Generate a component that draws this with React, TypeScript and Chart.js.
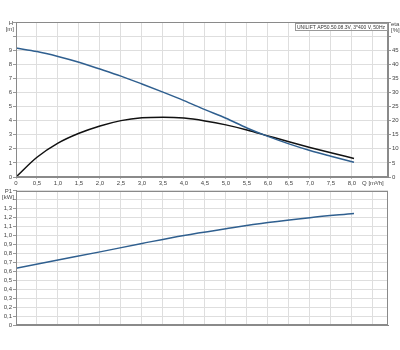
import React, { useEffect, useRef } from "react";
import { Chart, registerables } from "chart.js";

Chart.register(...registerables);

// ---- data ----
const flowQ = [0, 0.5, 1.0, 1.5, 2.0, 2.5, 3.0, 3.5, 4.0, 4.5, 5.0, 5.5, 6.0, 6.5, 7.0, 7.5, 8.05];
const headH = [9.15, 8.9, 8.55, 8.14, 7.66, 7.16, 6.6, 6.02, 5.42, 4.78, 4.17, 3.48, 2.88, 2.35, 1.88, 1.47, 1.04];
const etaPct = [0, 7.0, 12.0, 15.5, 18.1, 20.0, 21.0, 21.2, 20.9, 19.9, 18.5, 16.7, 14.6, 12.5, 10.5, 8.6, 6.6];
const powerQ = [0, 1.0, 2.0, 3.0, 4.0, 5.0, 6.0, 7.0, 8.05];
const powerP1 = [0.634, 0.725, 0.816, 0.91, 1.0, 1.074, 1.143, 1.198, 1.245];

const xTickValues = [0, 0.5, 1, 1.5, 2, 2.5, 3, 3.5, 4, 4.5, 5, 5.5, 6, 6.5, 7, 7.5, 8, 8.5];
const xTickLabels = ["0", "0,5", "1,0", "1,5", "2,0", "2,5", "3,0", "3,5", "4,0", "4,5", "5,0", "5,5", "6,0", "6,5", "7,0", "7,5", "8,0", "Q [m³/h]"];
const hTickValues = [0, 1, 2, 3, 4, 5, 6, 7, 8, 9, 10, 11];
const hTickLabels = ["0", "1", "2", "3", "4", "5", "6", "7", "8", "9", "", ""];
const etaTickValues = [0, 5, 10, 15, 20, 25, 30, 35, 40, 45, 50, 55];
const etaTickLabels = ["0", "5", "10", "15", "20", "25", "30", "35", "40", "45", "", ""];
const pTickValues = [0, 0.1, 0.2, 0.3, 0.4, 0.5, 0.6, 0.7, 0.8, 0.9, 1.0, 1.1, 1.2, 1.3, 1.4, 1.5];
const pTickLabels = ["0", "0,1", "0,2", "0,3", "0,4", "0,5", "0,6", "0,7", "0,8", "0,9", "1,0", "1,1", "1,2", "1,3", "", ""];

const titleText = "UNILIFT AP50.50.08.3V, 3*400 V, 50Hz";

const X_MAX = 8.86;
const FONT = "'Liberation Sans', Arial, sans-serif";
const tickFont = { family: FONT, size: 6 };
const TICK_COLOR = "#444";
const GRID = "#dedede";
const BORDER = "#8a8a8a";
const BLUE = "#2f5f8f";

const setTicks = (values: number[]) => (scale: any) => {
  scale.ticks = values.map((v) => ({ value: v }));
};

const framePlugin = {
  id: "frame",
  afterDatasetsDraw(chart: any, _a: any, opts: any) {
    const { ctx, chartArea: a } = chart;
    ctx.save();
    ctx.strokeStyle = BORDER;
    ctx.lineWidth = 1;
    ctx.strokeRect(Math.round(a.left) + 0.5, Math.round(a.top) + 0.5, Math.round(a.right - a.left) - 1, Math.round(a.bottom - a.top) - 1);
    ctx.fillStyle = TICK_COLOR;
    ctx.font = `6px ${FONT}`;
    (opts.labels || []).forEach((l: any) => {
      ctx.textAlign = l.align;
      ctx.textBaseline = "middle";
      ctx.fillText(l.text, l.x, l.y);
    });
    if (opts.title) {
      ctx.font = `5px ${FONT}`;
      const w = ctx.measureText(opts.title).width;
      const right = Math.round(a.right) - 1;
      const x0 = right - w - 4;
      ctx.fillStyle = "#fff";
      ctx.fillRect(x0, a.top + 1, w + 4, 8);
      ctx.strokeStyle = "#999";
      ctx.strokeRect(Math.round(x0) + 0.5, Math.round(a.top) + 1.5, Math.round(w + 4), 7);
      ctx.fillStyle = "#333";
      ctx.textAlign = "right";
      ctx.textBaseline = "middle";
      ctx.fillText(opts.title, right - 2, a.top + 5.5);
    }
    ctx.restore();
  },
};

export default function App() {
  const topRef = useRef<HTMLCanvasElement>(null);
  const botRef = useRef<HTMLCanvasElement>(null);

  useEffect(() => {
    const top = new Chart(topRef.current!, {
      type: "line",
      data: {
        datasets: [
          {
            label: "H",
            data: flowQ.map((q, i) => ({ x: q, y: headH[i] })),
            borderColor: BLUE,
            borderWidth: 1.5,
            pointRadius: 0,
            cubicInterpolationMode: "monotone",
            yAxisID: "y",
          },
          {
            label: "eta",
            data: flowQ.map((q, i) => ({ x: q, y: etaPct[i] })),
            borderColor: "#111",
            borderWidth: 1.5,
            pointRadius: 0,
            cubicInterpolationMode: "monotone",
            yAxisID: "y2",
          },
        ],
      },
      options: {
        animation: false,
        responsive: false,
        events: [],
        layout: { padding: { top: 22, left: 0, right: 0, bottom: 0 } },
        plugins: {
          legend: { display: false },
          tooltip: { enabled: false },
          frame: {
            title: titleText,
            labels: [
              { text: "H", x: 13, y: 23, align: "right" },
              { text: "[m]", x: 14, y: 29.5, align: "right" },
              { text: "eta", x: 391, y: 24, align: "left" },
              { text: "[%]", x: 391, y: 30.5, align: "left" },
            ],
          },
        } as any,
        scales: {
          x: {
            type: "linear",
            min: 0,
            max: X_MAX,
            afterBuildTicks: setTicks(xTickValues),
            afterFit: (s: any) => { s.height = 13; },
            ticks: { font: tickFont, color: TICK_COLOR, padding: 1, maxRotation: 0, autoSkip: false, callback: (_v: any, i: number) => xTickLabels[i] },
            grid: { color: GRID, tickLength: 2, tickColor: "#bbb" },
            border: { color: BORDER },
          },
          y: {
            type: "linear",
            position: "left",
            min: 0,
            max: 11,
            afterBuildTicks: setTicks(hTickValues),
            afterFit: (s: any) => { s.width = 16; },
            ticks: { font: tickFont, color: TICK_COLOR, padding: 1, autoSkip: false, callback: (_v: any, i: number) => hTickLabels[i] },
            grid: { color: GRID, tickLength: 3, tickColor: "#999" },
            border: { color: BORDER },
          },
          y2: {
            type: "linear",
            position: "right",
            min: 0,
            max: 55,
            afterBuildTicks: setTicks(etaTickValues),
            afterFit: (s: any) => { s.width = 12; },
            ticks: { font: tickFont, color: TICK_COLOR, padding: 1, autoSkip: false, callback: (_v: any, i: number) => etaTickLabels[i] },
            grid: { drawOnChartArea: false, tickLength: 3, tickColor: "#999" },
            border: { color: BORDER },
          },
        },
      } as any,
      plugins: [framePlugin],
    });

    const bot = new Chart(botRef.current!, {
      type: "line",
      data: {
        datasets: [
          {
            label: "P1",
            data: powerQ.map((q, i) => ({ x: q, y: powerP1[i] })),
            borderColor: BLUE,
            borderWidth: 1.5,
            pointRadius: 0,
            cubicInterpolationMode: "monotone",
          },
        ],
      },
      options: {
        animation: false,
        responsive: false,
        events: [],
        layout: { padding: { top: 3, left: 0, right: 12, bottom: 0 } },
        plugins: {
          legend: { display: false },
          tooltip: { enabled: false },
          frame: {
            labels: [
              { text: "P1", x: 12, y: 5, align: "right" },
              { text: "[kW]", x: 14, y: 11, align: "right" },
            ],
          },
        } as any,
        scales: {
          x: {
            type: "linear",
            min: 0,
            max: X_MAX,
            afterBuildTicks: setTicks(xTickValues),
            afterFit: (s: any) => { s.height = 5; },
            ticks: { display: false },
            grid: { color: GRID, drawTicks: false },
            border: { color: BORDER },
          },
          y: {
            type: "linear",
            position: "left",
            min: 0,
            max: 1.5,
            afterBuildTicks: setTicks(pTickValues),
            afterFit: (s: any) => { s.width = 16; },
            ticks: { font: tickFont, color: TICK_COLOR, padding: 1, autoSkip: false, callback: (_v: any, i: number) => pTickLabels[i] },
            grid: { color: GRID, tickLength: 3, tickColor: "#999" },
            border: { color: BORDER },
          },
        },
      } as any,
      plugins: [framePlugin],
    });

    return () => {
      top.destroy();
      bot.destroy();
    };
  }, []);

  return (
    <div style={{ position: "absolute", left: 0, top: 0, width: 400, height: 350, background: "#fff" }}>
      <canvas ref={topRef} width={400} height={190} style={{ position: "absolute", left: 0, top: 0 }} />
      <canvas ref={botRef} width={400} height={144} style={{ position: "absolute", left: 0, top: 186 }} />
    </div>
  );
}
